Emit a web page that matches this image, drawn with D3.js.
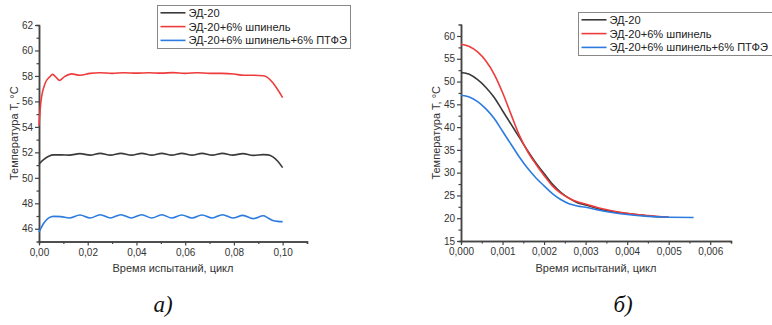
<!DOCTYPE html>
<html><head><meta charset="utf-8">
<script src="https://cdn.jsdelivr.net/npm/d3@7"></script>
<style>
body{margin:0;background:#fff}
text{font-family:"Liberation Sans",Arial,sans-serif}
</style>
</head><body>
<svg id="c" width="772" height="325"></svg>
<script>
// ---------- data ----------
const seriesNames = ["ЭД-20", "ЭД-20+6% шпинель", "ЭД-20+6% шпинель+6% ПТФЭ"];
const yTitle = "Температура T, °C";
const xTitle = "Время испытаний, цикл";
const panelLabels = ["а)", "б)"];

// panel a
const aTime = [0, 0.002, 0.004, 0.006, 0.009, 0.0125, 0.0168, 0.021, 0.0251, 0.0293, 0.0336, 0.0379, 0.0422, 0.0463, 0.0504, 0.0545, 0.0586, 0.0628, 0.0669, 0.0711, 0.0753, 0.0795, 0.0837, 0.0879, 0.0921, 0.094, 0.096, 0.098, 0.1];
const aBlack = [51.08, 51.45, 51.7, 51.8, 51.8, 51.78, 51.9, 51.78, 51.92, 51.78, 51.92, 51.78, 51.92, 51.78, 51.92, 51.78, 51.92, 51.78, 51.92, 51.78, 51.92, 51.78, 51.9, 51.76, 51.82, 51.8, 51.65, 51.3, 50.8];
const aBlue = [45.73, 46.45, 46.85, 46.97, 46.95, 46.85, 47.08, 46.85, 47.1, 46.85, 47.1, 46.85, 47.1, 46.85, 47.1, 46.85, 47.08, 46.85, 47.08, 46.85, 47.1, 46.85, 47.05, 46.8, 47.02, 46.85, 46.65, 46.58, 46.56];
const aRedTime = [0, 0.0008, 0.0025, 0.0045, 0.0056, 0.007, 0.0083, 0.0105, 0.0134, 0.0168, 0.021, 0.025, 0.03, 0.035, 0.04, 0.045, 0.05, 0.055, 0.06, 0.065, 0.07, 0.075, 0.08, 0.084, 0.088, 0.092, 0.1];
const aRed = [54.1, 56.0, 57.4, 57.95, 58.12, 57.9, 57.65, 57.95, 58.16, 58.05, 58.2, 58.25, 58.2, 58.25, 58.22, 58.25, 58.22, 58.26, 58.2, 58.25, 58.2, 58.2, 58.15, 58.05, 58.05, 58.02, 56.3];
const aXTicks = [0, 0.02, 0.04, 0.06, 0.08, 0.10];
const aXMinor = [0.01, 0.03, 0.05, 0.07, 0.09, 0.11];
const aYTicks = [46, 48, 50, 52, 54, 56, 58, 60, 62];
const aYMinor = [47, 49, 51, 53, 55, 57, 59, 61];

// panel b
const bTime = [0, 0.0002, 0.0004, 0.0006, 0.0008, 0.001, 0.0012, 0.0014, 0.0016, 0.0018, 0.002, 0.0022, 0.0024, 0.0026, 0.0028, 0.003, 0.0033, 0.0036, 0.004, 0.0045, 0.005];
const bBlack = [52.0, 51.6, 50.4, 48.7, 46.5, 43.6, 40.7, 37.8, 34.9, 32.2, 29.8, 27.5, 25.7, 24.4, 23.4, 22.9, 22.1, 21.5, 21.0, 20.5, 20.2];
const bRed = [58.2, 57.7, 56.5, 54.5, 51.6, 47.6, 42.9, 38.3, 34.7, 31.9, 29.4, 27.1, 25.5, 24.4, 23.6, 23.1, 22.3, 21.7, 21.1, 20.6, 20.2];
const bBlueTime = [0, 0.0002, 0.0004, 0.0006, 0.0008, 0.001, 0.0012, 0.0014, 0.0016, 0.0018, 0.002, 0.0022, 0.0024, 0.0026, 0.0028, 0.003, 0.0033, 0.0036, 0.004, 0.0045, 0.005, 0.0056];
const bBlue = [47.0, 46.6, 45.6, 44.0, 41.9, 39.1, 36.3, 33.5, 31.0, 28.9, 27.1, 25.4, 24.1, 23.2, 22.7, 22.4, 21.8, 21.3, 20.8, 20.4, 20.2, 20.15];
const bXTicks = [0, 0.001, 0.002, 0.003, 0.004, 0.005, 0.006];
const bXMinor = [0.0005, 0.0015, 0.0025, 0.0035, 0.0045, 0.0055, 0.0065];
const bYTicks = [15, 20, 25, 30, 35, 40, 45, 50, 55, 60];
const bYMinor = [17.5, 22.5, 27.5, 32.5, 37.5, 42.5, 47.5, 52.5, 57.5];

// ---------- style ----------
const colors = ["#3a3a3a", "#ee3b3b", "#2c7be0"];
const axisColor = "#444";
const textColor = "#333";

const svg = d3.select("#c");
svg.append("rect").attr("width", 772).attr("height", 325).attr("fill", "#fff");

function comma(fmt){ const f = d3.format(fmt); return v => f(v).replace(".", ","); }

function panel(cfg){
  const x = d3.scaleLinear().domain(cfg.xDomain).range(cfg.xRange);
  const y = d3.scaleLinear().domain(cfg.yDomain).range(cfg.yRange);
  const g = svg.append("g");

  // minor ticks
  const gxm = g.append("g").attr("transform", `translate(0,${cfg.yRange[0]})`)
    .call(d3.axisBottom(x).tickValues(cfg.xMinor).tickSize(2.5).tickFormat(""));
  const gym = g.append("g").attr("transform", `translate(${cfg.xRange[0]},0)`)
    .call(d3.axisLeft(y).tickValues(cfg.yMinor).tickSize(2.5).tickFormat(""));
  // major
  const gx = g.append("g").attr("transform", `translate(0,${cfg.yRange[0]})`)
    .call(d3.axisBottom(x).tickValues(cfg.xTicks).tickSize(4).tickSizeOuter(0).tickPadding(3).tickFormat(comma(cfg.xFmt)));
  const gy = g.append("g").attr("transform", `translate(${cfg.xRange[0]},0)`)
    .call(d3.axisLeft(y).tickValues(cfg.yTicks).tickSize(4).tickSizeOuter(0).tickPadding(2).tickFormat(d3.format("d")));
  [gxm, gym, gx, gy].forEach(a => {
    a.selectAll("path.domain").attr("stroke", axisColor).attr("stroke-width", 1.5);
    a.selectAll(".tick line").attr("stroke", axisColor).attr("stroke-width", 1.2);
    a.selectAll(".tick text").attr("fill", textColor).style("font-size", "10px")
      .style("font-family", '"Liberation Sans",Arial,sans-serif');
  });

  // lines
  const line = d3.line().x(d => x(d[0])).y(d => y(d[1])).curve(d3.curveMonotoneX);
  cfg.series.forEach((s, i) => {
    g.append("path").datum(d3.zip(s.t, s.v))
      .attr("fill", "none").attr("stroke", colors[i]).attr("stroke-width", 1.6)
      .attr("stroke-linejoin", "round").attr("d", line);
  });

  // titles
  g.append("text").attr("x", (cfg.xRange[0] + cfg.xRange[1]) / 2).attr("y", cfg.xTitleY)
    .attr("text-anchor", "middle").attr("dominant-baseline", "central")
    .style("font-size", "11px").attr("fill", textColor).text(xTitle);
  g.append("text").attr("transform", `translate(${cfg.yTitleX},${(cfg.yRange[0] + cfg.yRange[1]) / 2}) rotate(-90)`)
    .attr("text-anchor", "middle").attr("dominant-baseline", "central")
    .style("font-size", "11px").attr("fill", textColor).text(yTitle);

  // legend
  const L = cfg.legend;
  g.append("rect").attr("x", L.x).attr("y", L.y).attr("width", L.w).attr("height", L.h)
    .attr("fill", "#fff").attr("stroke", "#888").attr("stroke-width", 1);
  seriesNames.forEach((n, i) => {
    const yy = L.y + 7.3 + i * 13.8;
    g.append("line").attr("x1", L.x + 3).attr("x2", L.x + 28).attr("y1", yy).attr("y2", yy)
      .attr("stroke", colors[i]).attr("stroke-width", 1.6);
    g.append("text").attr("x", L.x + 31).attr("y", yy).attr("dominant-baseline", "central")
      .style("font-size", "11.1px").attr("fill", "#222").text(n);
  });

  // panel label
  svg.append("text").attr("x", cfg.labelX).attr("y", 312).attr("text-anchor", "middle")
    .style("font-family", '"Liberation Serif","Times New Roman",serif').style("font-style", "italic")
    .style("font-size", "23px").attr("fill", "#111").text(cfg.label);
}

panel({
  xDomain: [0, 0.11], xRange: [39, 307], yDomain: [45, 62], yRange: [241.5, 25],
  xTicks: aXTicks, xMinor: aXMinor, yTicks: aYTicks, yMinor: aYMinor, xFmt: ".2f",
  series: [{t: aTime, v: aBlack}, {t: aRedTime, v: aRed}, {t: aTime, v: aBlue}],
  xTitleY: 268, yTitleX: 14,
  legend: {x: 157.5, y: 5.5, w: 193, h: 43},
  label: panelLabels[0], labelX: 163
});
panel({
  xDomain: [0, 0.0065], xRange: [461, 731], yDomain: [15, 62.5], yRange: [241, 24.6],
  xTicks: bXTicks, xMinor: bXMinor, yTicks: bYTicks, yMinor: bYMinor, xFmt: ".3f",
  series: [{t: bTime, v: bBlack}, {t: bTime, v: bRed}, {t: bBlueTime, v: bBlue}],
  xTitleY: 268, yTitleX: 436,
  legend: {x: 578.5, y: 12.5, w: 200, h: 43},
  label: panelLabels[1], labelX: 623
});
</script>
</body></html>
